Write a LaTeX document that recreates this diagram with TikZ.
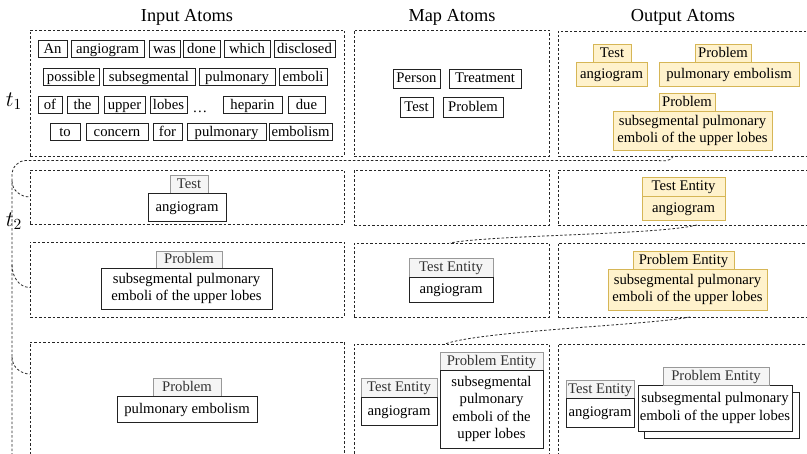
\RequirePackage{fix-cm}
\documentclass[tikz,border=0pt]{standalone}
\usepackage{fontspec}
\setmainfont{Liberation Serif}
\definecolor{ylwfill}{HTML}{FFF2CC}
\definecolor{ylwline}{HTML}{D6B656}
\definecolor{gryfill}{HTML}{F5F5F5}
\definecolor{gryline}{HTML}{999999}
\definecolor{grytext}{HTML}{333333}
\definecolor{boxline}{HTML}{222222}
\newcommand\mkbox[7]{%
  \node[#1, minimum width={(#5-#3)*1pt}, minimum height={(#6-#4)*1pt}] (#2) at ({(#3+#5)/2},{-(#4+#6)/2}) {#7};}
\tikzset{
  every node/.style={font=\fontsize{14.7}{17.6}\selectfont, inner sep=0pt, outer sep=0pt},
  wordbx/.style={draw=boxline, fill=white, line width=0.8pt, text height=12pt, text depth=2pt},
  mapbx/.style={draw=boxline, fill=white, line width=0.8pt, text height=11pt, text depth=2pt},
  ytab/.style={draw=ylwline, fill=ylwfill, line width=0.8pt, text height=11pt, text depth=2pt},
  ybody/.style={draw=ylwline, fill=ylwfill, line width=0.8pt, align=center},
  gtab/.style={draw=gryline, fill=gryfill, text=grytext, line width=0.8pt, text height=11pt, text depth=2pt},
  wbody/.style={draw=boxline, fill=white, line width=0.8pt, align=center},
  wsingle/.style={draw=boxline, fill=white, line width=0.8pt, text height=11pt, text depth=2pt},
  zone/.style={draw=black!85, dash pattern=on 2.5pt off 2pt, line width=0.8pt},
  dconn/.style={draw=black!85, dash pattern=on 2.5pt off 2pt, line width=0.8pt},
  hdr/.style={font=\fontsize{18.3}{22}\selectfont, anchor=base},
  tlab/.style={scale=1.5},
}
\begin{document}
\begin{tikzpicture}[x=1pt,y=1pt]
\path[use as bounding box, clip] (0,0) rectangle (807,-454);
\fill[white] (0,0) rectangle (807,-454);

% headers
\node[hdr] (hIn) at (187,-22) {Input Atoms};
\node[hdr] (hMap) at (452,-22) {Map Atoms};
\node[hdr] (hOut) at (683,-22) {Output Atoms};

% time labels
\node[tlab] (t1) at (14,-101) {$t_1$};
\node[tlab] (t2) at (14,-221) {$t_2$};

% regions
\mkbox{zone}{in1}{30}{30}{344}{156}{}
\mkbox{zone}{map1}{354}{30}{549}{156}{}
\mkbox{zone}{out1}{558}{31}{840}{156}{}
\mkbox{zone}{in2}{30}{170}{344}{224}{}
\mkbox{zone}{map2}{354}{170}{549}{225}{}
\mkbox{zone}{out2}{558}{170}{840}{225}{}
\mkbox{zone}{in3}{30}{242}{344}{317}{}
\mkbox{zone}{map3}{354}{243}{549}{317}{}
\mkbox{zone}{out3}{558}{243}{840}{317}{}
\mkbox{zone}{in4}{30}{342}{344}{490}{}
\mkbox{zone}{map4}{354}{344}{549}{490}{}
\mkbox{zone}{out4}{558}{344}{840}{490}{}

% row 1 input words
\mkbox{wordbx}{w1}{38}{40}{67}{57}{An}
\mkbox{wordbx}{w2}{71}{40}{144}{57}{angiogram}
\mkbox{wordbx}{w3}{149}{40}{180}{57}{was}
\mkbox{wordbx}{w4}{183}{40}{220}{57}{done}
\mkbox{wordbx}{w5}{224}{40}{270}{57}{which}
\mkbox{wordbx}{w6}{274}{40}{335}{57}{disclosed}
\mkbox{wordbx}{w7}{43}{68}{99}{85}{possible}
\mkbox{wordbx}{w8}{103}{68}{195}{85}{subsegmental}
\mkbox{wordbx}{w9}{199}{68}{275}{85}{pulmonary}
\mkbox{wordbx}{w10}{279}{68}{327}{85}{emboli}
\mkbox{wordbx}{w11}{38}{96}{62}{113}{of}
\mkbox{wordbx}{w12}{67}{96}{98}{113}{the}
\mkbox{wordbx}{w13}{104}{96}{145}{113}{upper}
\mkbox{wordbx}{w14}{150}{96}{187}{113}{lobes}
\node[anchor=base] (dots) at (200,-113) {\ldots};
\mkbox{wordbx}{w15}{223}{96}{282}{113}{heparin}
\mkbox{wordbx}{w16}{288}{96}{325}{113}{due}
\mkbox{wordbx}{w17}{50}{123}{80}{140}{to}
\mkbox{wordbx}{w18}{86}{123}{148}{140}{concern}
\mkbox{wordbx}{w19}{153}{123}{182}{140}{for}
\mkbox{wordbx}{w20}{187}{123}{266}{140}{pulmonary}
\mkbox{wordbx}{w21}{269}{123}{332}{140}{embolism}

% row 1 map
\mkbox{mapbx}{m1}{393}{69}{440}{88}{Person}
\mkbox{mapbx}{m2}{449}{69}{521}{88}{Treatment}
\mkbox{mapbx}{m3}{400}{97}{433}{117}{Test}
\mkbox{mapbx}{m4}{443}{97}{503}{117}{Problem}

% row 1 output
\mkbox{ytab}{o1a}{593}{44}{631}{62}{Test}
\mkbox{ytab}{o1b}{576}{62}{647}{86}{angiogram}
\mkbox{ytab}{o1c}{695}{44}{751}{62}{Problem}
\mkbox{ytab}{o1d}{659}{62}{799}{86}{pulmonary embolism}
\mkbox{ytab}{o1e}{659}{93}{715}{111}{Problem}
\mkbox{ybody}{o1f}{613}{111}{772}{150}{subsegmental pulmonary\\emboli of the upper lobes}

% row 2
\mkbox{gtab}{i2a}{170}{175}{208}{193}{Test}
\mkbox{wsingle}{i2b}{148}{193}{226}{221}{angiogram}
\mkbox{ytab}{o2a}{642}{177}{725}{196}{Test Entity}
\mkbox{ytab}{o2b}{642}{196}{725}{220}{angiogram}

% row 3
\mkbox{gtab}{i3a}{156}{251}{222}{268}{Problem}
\mkbox{wbody}{i3b}{101}{268}{272}{309}{subsegmental pulmonary\\emboli of the upper lobes}
\mkbox{gtab}{m3a}{409}{258}{493}{277}{Test Entity}
\mkbox{wsingle}{m3b}{409}{277}{493}{302}{angiogram}
\mkbox{ytab}{o3a}{633}{251}{734}{269}{Problem Entity}
\mkbox{ybody}{o3b}{608}{269}{767}{310}{subsegmental pulmonary\\emboli of the upper lobes}

% row 4
\mkbox{gtab}{i4a}{153}{378}{221}{396}{Problem}
\mkbox{wsingle}{i4b}{117}{396}{257}{422}{pulmonary embolism}
\mkbox{gtab}{m4a}{361}{378}{437}{397}{Test Entity}
\mkbox{wsingle}{m4b}{361}{397}{437}{425}{angiogram}
\mkbox{gtab}{m4c}{440}{352}{543}{370}{Problem Entity}
\mkbox{wbody}{m4d}{440}{370}{543}{448}{subsegmental\\pulmonary\\emboli of the\\upper lobes}
\mkbox{gtab}{o4a}{566}{380}{634}{398}{Test Entity}
\mkbox{wsingle}{o4b}{566}{398}{634}{427}{angiogram}
\mkbox{wbody}{o4back}{644}{392}{799}{438}{}
\mkbox{wbody}{o4c}{638}{385}{792}{431}{subsegmental pulmonary\\emboli of the upper lobes}
\mkbox{gtab}{o4d}{663}{367}{769}{385}{Problem Entity}

% connectors
\coordinate (trunkTop) at (12,-175);
\coordinate (trunkEnd) at (12,-470);
\coordinate (br2) at (12,-181);
\coordinate (br3) at (12,-265);
\coordinate (br4) at (12,-357);
\draw[dconn] ([xshift=115pt]out1.south west) to[out=-110,in=0] ([xshift=98pt,yshift=-4.5pt]out1.south west)
  -- ([xshift=-4pt,yshift=-4.5pt]in1.south west) to[out=180,in=90] (trunkTop) -- (trunkEnd);
\draw[dconn] (br2) to[out=-90,in=180] (in2.west);
\draw[dconn] (br3) to[out=-90,in=180] ([yshift=-8pt]in3.west);
\draw[dconn] (br4) to[out=-90,in=180] ([yshift=-32pt]in4.north west);
\draw[dconn] ([xshift=139pt]out2.south west) .. controls +(-40,-10) and +(40,8) .. ([xshift=96pt]map3.north west);
\draw[dconn] ([xshift=132pt]out3.south west) .. controls +(-40,-8) and +(35,13) .. ([xshift=91pt]map4.north west);
\end{tikzpicture}
\end{document}
